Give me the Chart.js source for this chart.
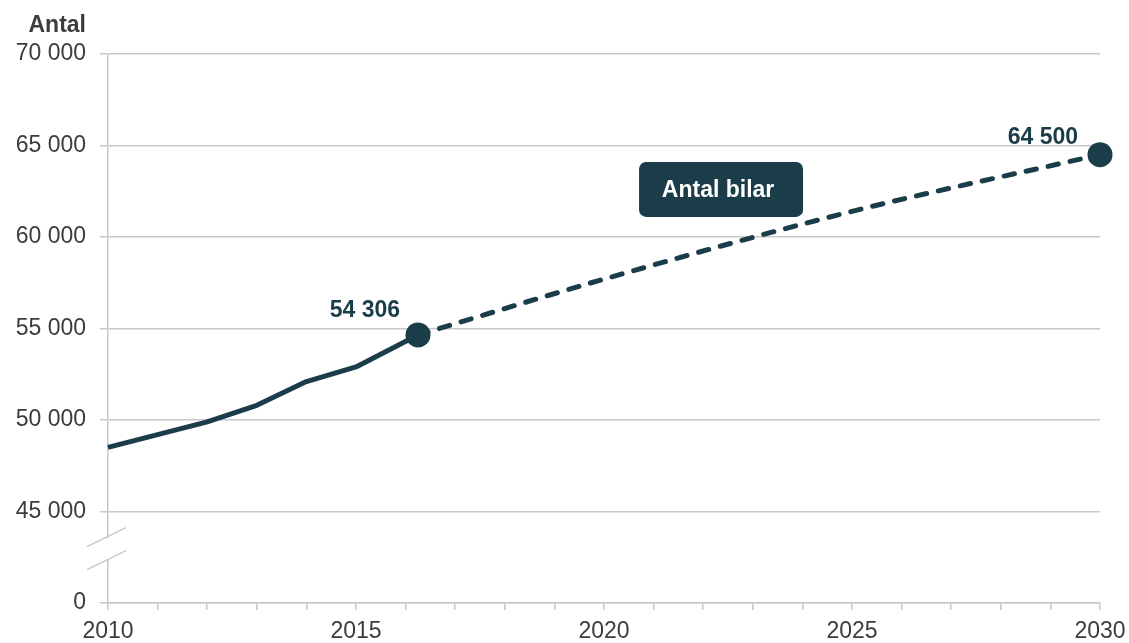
<!DOCTYPE html>
<html>
<head>
<meta charset="utf-8">
<script src="https://cdn.jsdelivr.net/npm/chart.js@4"></script>
<style>
  html, body { margin: 0; padding: 0; background: #fff; }
  #wrap { width: 1129px; height: 643px; position: relative; }
</style>
</head>
<body>
<div id="wrap"><canvas id="bilar"></canvas></div>
<script>
// Antal bilar, utfall och prognos
const histYears = [2010, 2011, 2012, 2013, 2014, 2015, 2016.25];
const histValues = [48500, 49200, 49900, 50800, 52100, 52900, 54650];
const progYears = [2016.25, 2020, 2025, 2030];
const progValues = [54650, 57700, 61400, 64500];
const labelLast = "54 306";
const labelEnd = "64 500";
const boxText = "Antal bilar";
const yAxisTitle = "Antal";

const dark = "#1b3d4a";
const grey = "#c8c8c8";
const txt = "#3c3c3c";
const font = "'Liberation Sans', Arial, sans-serif";

function fmt(v) {
  if (v === 40000) return "0";
  return String(v).replace(/\B(?=(\d{3})+(?!\d))/g, " ");
}

// egna detaljer: axelbrytning, etiketter, rutan
const extras = {
  id: "extras",
  afterDraw(chart) {
    const c = chart.ctx;
    const xs = chart.scales.x, ys = chart.scales.y;
    const left = chart.chartArea.left;
    c.save();

    // axelbrytning
    const mid = ys.getPixelForValue(43000);
    c.fillStyle = "#fff";
    c.fillRect(left - 3, mid - 10, 6, 21);
    c.strokeStyle = grey;
    c.lineWidth = 1.5;
    [-11, 12].forEach(off => {
      c.beginPath();
      c.moveTo(left - 21, mid + off + 9.5);
      c.lineTo(left + 18, mid + off - 9.5);
      c.stroke();
    });

    // titel på y-axeln
    c.fillStyle = txt;
    c.font = "bold 23px " + font;
    c.textAlign = "right";
    c.textBaseline = "alphabetic";
    c.fillText(yAxisTitle, left - 22, 32);

    // värden vid punkterna
    c.fillStyle = dark;
    c.textBaseline = "middle";
    const n = histYears.length - 1;
    c.fillText(labelLast, xs.getPixelForValue(histYears[n]) - 18, ys.getPixelForValue(histValues[n]) - 24);
    const m = progYears.length - 1;
    c.fillText(labelEnd, xs.getPixelForValue(progYears[m]) - 22, ys.getPixelForValue(progValues[m]) - 17);

    // rutan
    const bx = xs.getPixelForValue(2022.36), by = ys.getPixelForValue(62600);
    const w = 164, h = 55;
    c.beginPath();
    c.roundRect(bx - w / 2, by - h / 2, w, h, 7);
    c.fill();
    c.fillStyle = "#fff";
    c.textAlign = "center";
    c.fillText(boxText, bx - 3, by + 1);
    c.restore();
  }
};

new Chart(document.getElementById("bilar"), {
  type: "line",
  data: {
    datasets: [
      {
        label: "Prognos",
        data: progYears.map((x, i) => ({ x: x, y: progValues[i] })),
        borderColor: dark,
        backgroundColor: dark,
        borderWidth: 5,
        borderDash: [10.5, 12],
        borderCapStyle: "round",
        cubicInterpolationMode: "monotone",
        pointRadius: progYears.map((x, i) => i === progYears.length - 1 ? 12.5 : 0),
        pointBorderWidth: 0,
        clip: false,
        order: 2
      },
      {
        label: "Utfall",
        data: histYears.map((x, i) => ({ x: x, y: histValues[i] })),
        borderColor: dark,
        backgroundColor: dark,
        borderWidth: 5,
        borderJoinStyle: "round",
        tension: 0,
        pointRadius: histYears.map((x, i) => i === histYears.length - 1 ? 12.5 : 0),
        pointBorderWidth: 0,
        clip: false,
        order: 1
      }
    ]
  },
  options: {
    responsive: true,
    maintainAspectRatio: false,
    animation: false,
    layout: { padding: { top: 54, right: 29, left: 0, bottom: 0 } },
    plugins: { legend: { display: false }, tooltip: { enabled: false } },
    scales: {
      x: {
        type: "linear",
        min: 2010,
        max: 2030,
        afterFit: s => { s.height = 40; s.paddingRight = 0; s.paddingLeft = 0; },
        grid: { drawOnChartArea: false, color: grey, lineWidth: 1.5, tickLength: 7 },
        border: { color: grey, width: 1.5 },
        ticks: {
          stepSize: 1,
          padding: 10,
          color: txt,
          font: { family: font, size: 23, lineHeight: 1 },
          maxRotation: 0,
          autoSkip: false,
          callback: v => (v % 5 === 0 ? String(v) : "")
        }
      },
      y: {
        min: 40000,
        max: 70000,
        afterFit: s => { s.width = 108; },
        grid: { color: grey, lineWidth: 1.5, tickLength: 8 },
        border: { color: grey, width: 1.5 },
        ticks: {
          stepSize: 5000,
          padding: 14,
          color: txt,
          font: { family: font, size: 23 },
          callback: v => fmt(v)
        }
      }
    }
  },
  plugins: [extras]
});
</script>
</body>
</html>
